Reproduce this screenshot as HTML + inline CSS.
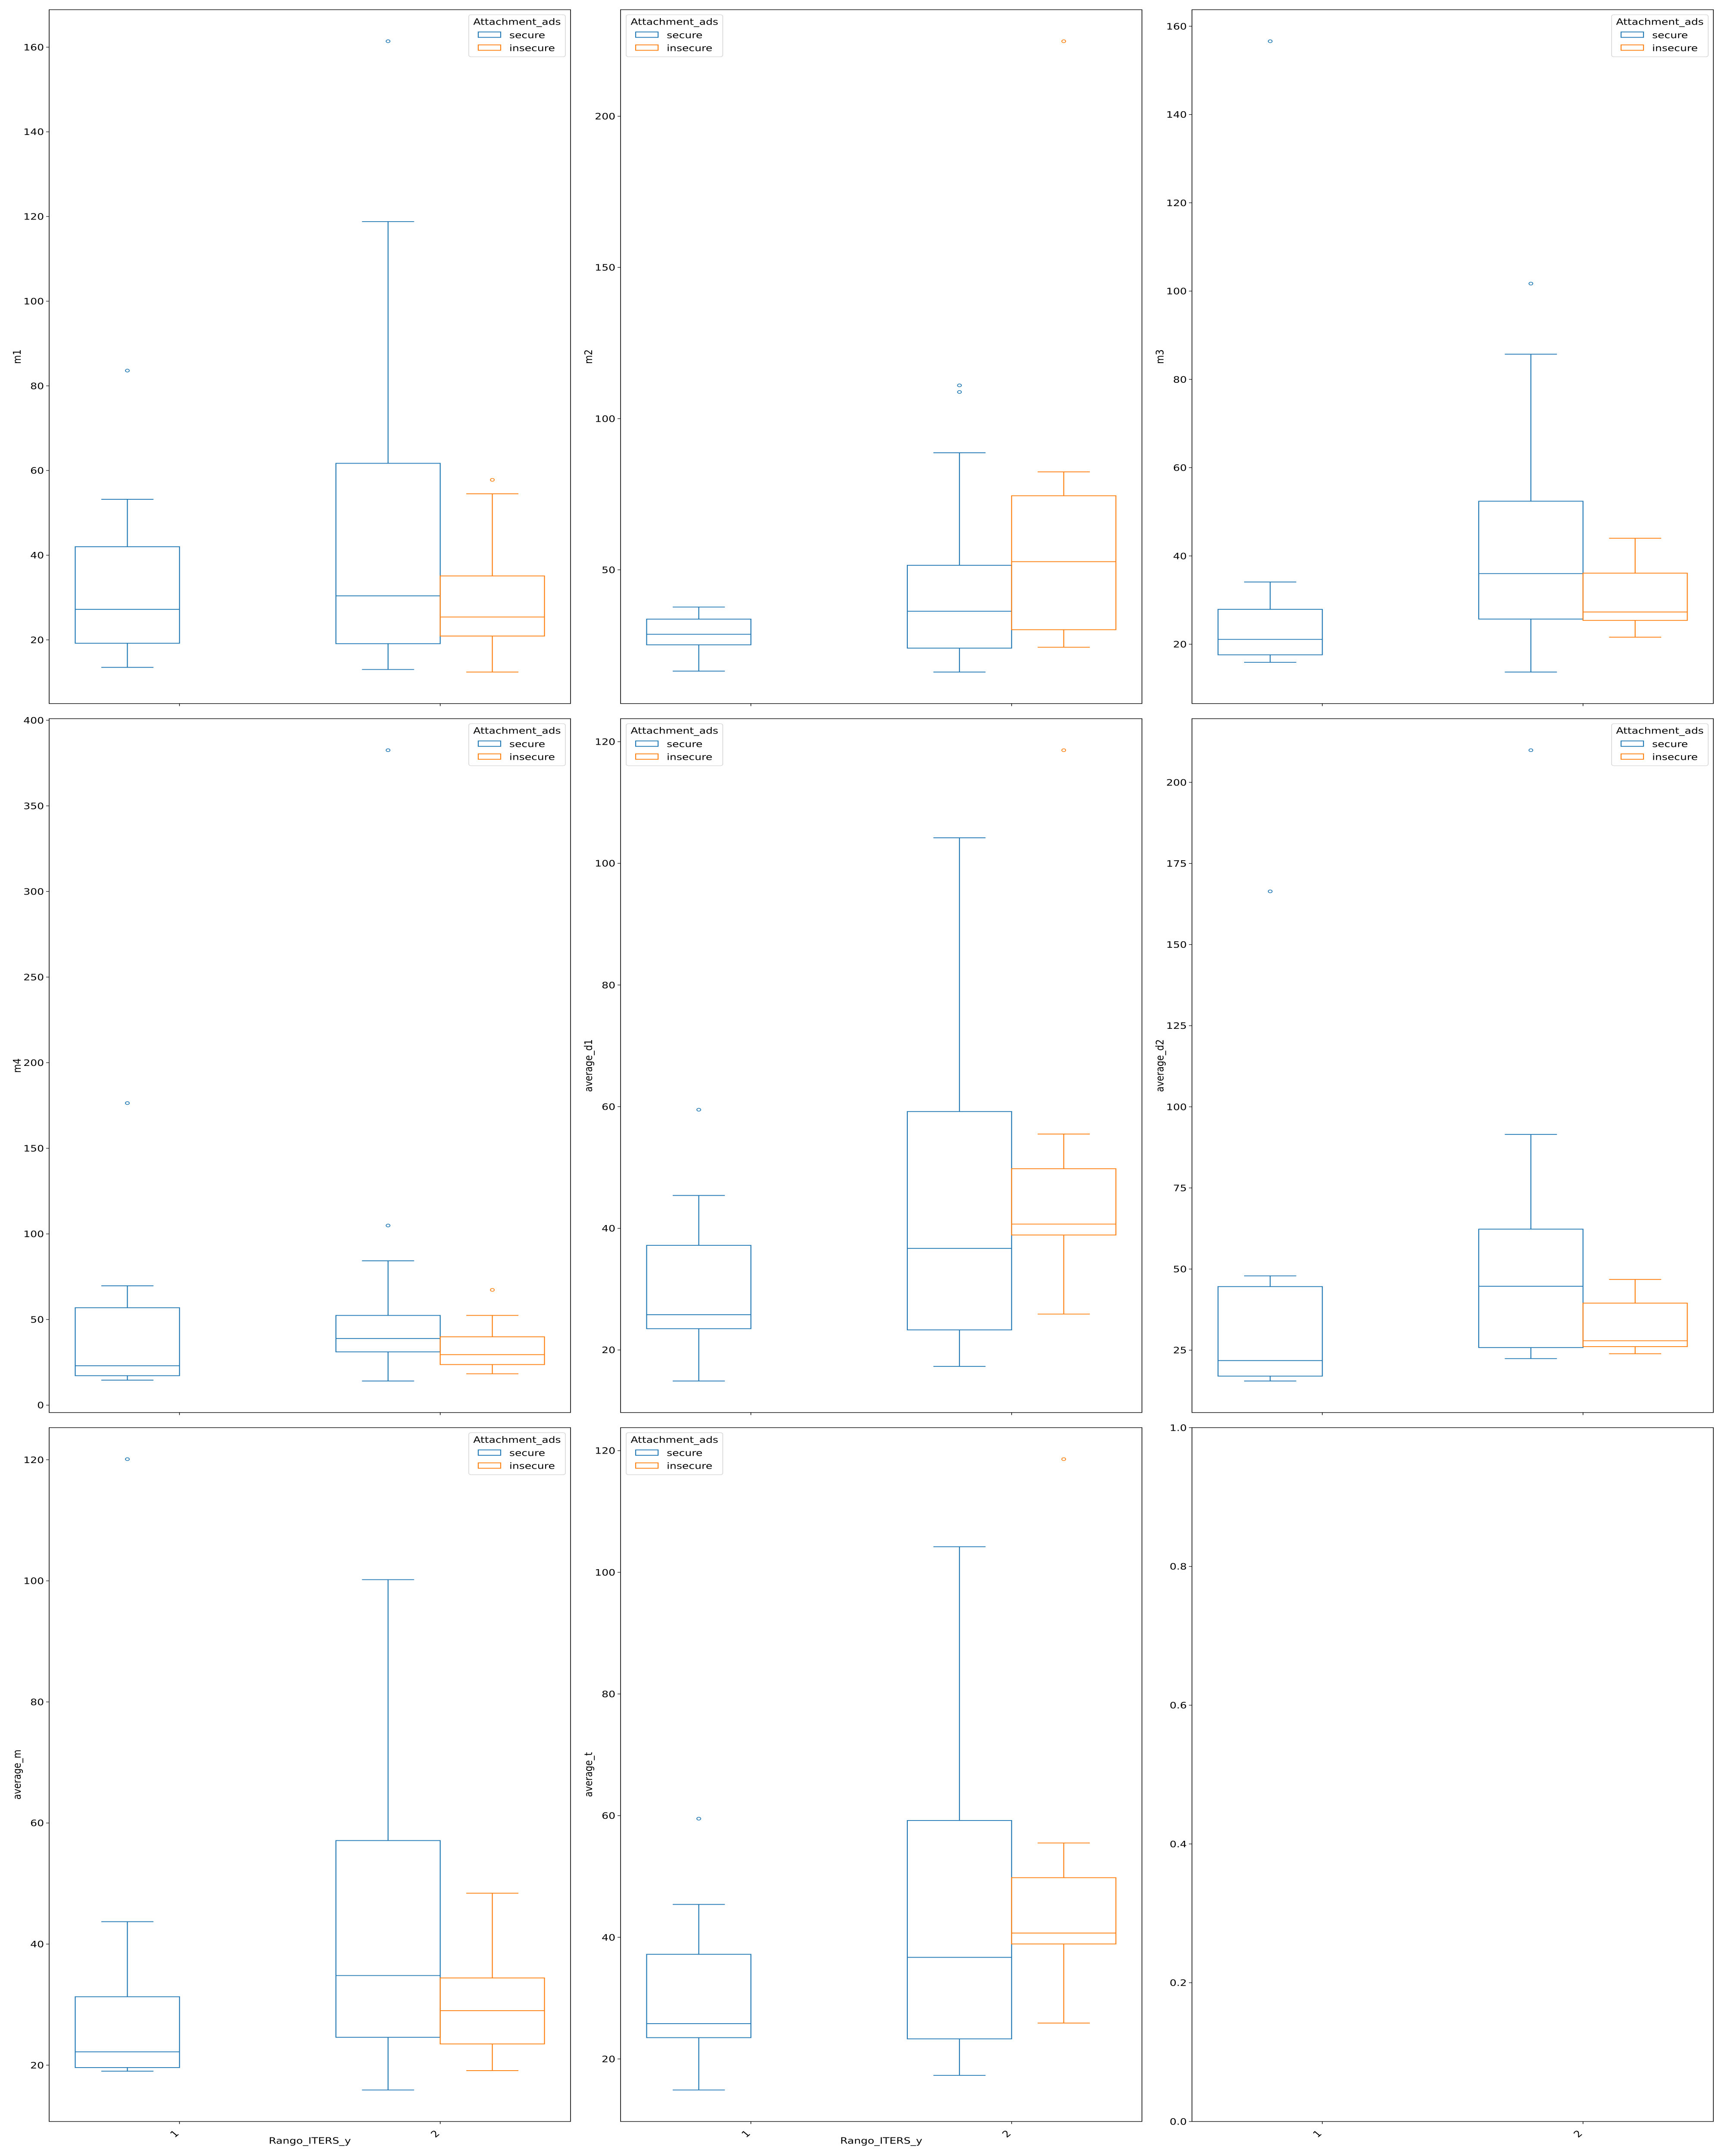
<!DOCTYPE html>
<html>
<head>
<meta charset="utf-8">
<style>
  html, body { margin: 0; padding: 0; background: #ffffff; width: 100%; height: 100%; overflow: hidden; }
  svg { display: block; position: absolute; left: 0; top: 0; width: 100vw; height: 100vh; font-family: "DejaVu Sans", "Liberation Sans", sans-serif; }
</style>
</head>
<body>
<svg id="chart" xmlns="http://www.w3.org/2000/svg" viewBox="0 0 4000 6000" preserveAspectRatio="none"></svg>
<script>
// ---- data: stats are [lowWhisker, q1, median, q3, highWhisker] ----
const categories = ['1', '2'];
const hues = ['secure', 'insecure'];

const m1Ticks = [20, 40, 60, 80, 100, 120, 140, 160];
const m1SecureG1 = [13.5, 19.2, 27.2, 42.0, 53.2];
const m1SecureG1Out = [83.6];
const m1SecureG2 = [13.0, 19.1, 30.4, 61.7, 118.8];
const m1SecureG2Out = [161.4];
const m1InsecureG2 = [12.4, 20.9, 25.4, 35.1, 54.5];
const m1InsecureG2Out = [57.8];

const m2Ticks = [50, 100, 150, 200];
const m2SecureG1 = [16.5, 25.2, 28.7, 33.7, 37.7];
const m2SecureG1Out = [];
const m2SecureG2 = [16.2, 24.1, 36.3, 51.5, 88.7];
const m2SecureG2Out = [111.0, 108.8];
const m2InsecureG2 = [24.4, 30.2, 52.7, 74.5, 82.4];
const m2InsecureG2Out = [224.8];

const m3Ticks = [20, 40, 60, 80, 100, 120, 140, 160];
const m3SecureG1 = [15.9, 17.6, 21.1, 27.9, 34.1];
const m3SecureG1Out = [156.6];
const m3SecureG2 = [13.7, 25.7, 36.0, 52.4, 85.7];
const m3SecureG2Out = [101.7];
const m3InsecureG2 = [21.6, 25.4, 27.3, 36.1, 44.0];
const m3InsecureG2Out = [];

const m4Ticks = [0, 50, 100, 150, 200, 250, 300, 350, 400];
const m4SecureG1 = [14.6, 17.2, 23.0, 56.9, 69.7];
const m4SecureG1Out = [176.4];
const m4SecureG2 = [14.1, 31.1, 38.9, 52.4, 84.3];
const m4SecureG2Out = [382.5, 104.9];
const m4InsecureG2 = [18.3, 23.7, 29.5, 39.9, 52.4];
const m4InsecureG2Out = [67.3];

const d1Ticks = [20, 40, 60, 80, 100, 120];
const d1SecureG1 = [14.9, 23.5, 25.8, 37.2, 45.4];
const d1SecureG1Out = [59.5];
const d1SecureG2 = [17.3, 23.3, 36.7, 59.2, 104.2];
const d1SecureG2Out = [];
const d1InsecureG2 = [25.9, 38.9, 40.7, 49.8, 55.5];
const d1InsecureG2Out = [118.6];

const d2Ticks = [25, 50, 75, 100, 125, 150, 175, 200];
const d2SecureG1 = [15.5, 17.0, 21.8, 44.6, 47.9];
const d2SecureG1Out = [166.4];
const d2SecureG2 = [22.4, 25.8, 44.7, 62.3, 91.5];
const d2SecureG2Out = [209.9];
const d2InsecureG2 = [23.9, 26.1, 27.9, 39.5, 46.8];
const d2InsecureG2Out = [];

const amTicks = [20, 40, 60, 80, 100, 120];
const amSecureG1 = [19.0, 19.6, 22.2, 31.3, 43.7];
const amSecureG1Out = [120.1];
const amSecureG2 = [15.9, 24.6, 34.8, 57.1, 100.2];
const amSecureG2Out = [];
const amInsecureG2 = [19.1, 23.5, 29.0, 34.4, 48.4];
const amInsecureG2Out = [];

const atTicks = [20, 40, 60, 80, 100, 120];
const atSecureG1 = [14.9, 23.5, 25.8, 37.2, 45.4];
const atSecureG1Out = [59.5];
const atSecureG2 = [17.3, 23.3, 36.7, 59.2, 104.2];
const atSecureG2Out = [];
const atInsecureG2 = [25.9, 38.9, 40.7, 49.8, 55.5];
const atInsecureG2Out = [118.6];

const emptyTicks = [0.0, 0.2, 0.4, 0.6, 0.8, 1.0];
const emptyTickLabels = ['0.0', '0.2', '0.4', '0.6', '0.8', '1.0'];

// ---- layout ----
const COLORS = ['#1f77b4', '#ff7f0e'];
const colLeft = [114, 1439, 2764];
const rowTop = [27, 2000, 3973];
const AW = 1209, AH = 1931;
const FS = 25;
const NS = 'http://www.w3.org/2000/svg';
const svg = document.getElementById('chart');

function mk(tag, parent, attrs) {
  const e = document.createElementNS(NS, tag);
  for (const k in attrs) e.setAttribute(k, attrs[k]);
  parent.appendChild(e);
  return e;
}

const panels = [
  { key: 'm1', label: 'm1', col: 0, row: 0, legend: 'right', ticks: m1Ticks,
    boxes: [[0, 0, m1SecureG1, m1SecureG1Out], [1, 0, m1SecureG2, m1SecureG2Out], [1, 1, m1InsecureG2, m1InsecureG2Out]] },
  { key: 'm2', label: 'm2', col: 1, row: 0, legend: 'left', ticks: m2Ticks,
    boxes: [[0, 0, m2SecureG1, m2SecureG1Out], [1, 0, m2SecureG2, m2SecureG2Out], [1, 1, m2InsecureG2, m2InsecureG2Out]] },
  { key: 'm3', label: 'm3', col: 2, row: 0, legend: 'right', ticks: m3Ticks,
    boxes: [[0, 0, m3SecureG1, m3SecureG1Out], [1, 0, m3SecureG2, m3SecureG2Out], [1, 1, m3InsecureG2, m3InsecureG2Out]] },
  { key: 'm4', label: 'm4', col: 0, row: 1, legend: 'right', ticks: m4Ticks,
    boxes: [[0, 0, m4SecureG1, m4SecureG1Out], [1, 0, m4SecureG2, m4SecureG2Out], [1, 1, m4InsecureG2, m4InsecureG2Out]] },
  { key: 'average-d1', label: 'average_d1', col: 1, row: 1, legend: 'left', ticks: d1Ticks,
    boxes: [[0, 0, d1SecureG1, d1SecureG1Out], [1, 0, d1SecureG2, d1SecureG2Out], [1, 1, d1InsecureG2, d1InsecureG2Out]] },
  { key: 'average-d2', label: 'average_d2', col: 2, row: 1, legend: 'right', ticks: d2Ticks,
    boxes: [[0, 0, d2SecureG1, d2SecureG1Out], [1, 0, d2SecureG2, d2SecureG2Out], [1, 1, d2InsecureG2, d2InsecureG2Out]] },
  { key: 'average-m', label: 'average_m', col: 0, row: 2, legend: 'right', ticks: amTicks, xlabel: true,
    boxes: [[0, 0, amSecureG1, amSecureG1Out], [1, 0, amSecureG2, amSecureG2Out], [1, 1, amInsecureG2, amInsecureG2Out]] },
  { key: 'average-t', label: 'average_t', col: 1, row: 2, legend: 'left', ticks: atTicks, xlabel: true,
    boxes: [[0, 0, atSecureG1, atSecureG1Out], [1, 0, atSecureG2, atSecureG2Out], [1, 1, atInsecureG2, atInsecureG2Out]] },
  { key: 'empty', label: '', col: 2, row: 2, legend: null, ticks: emptyTicks, tickLabels: emptyTickLabels, domain: [0, 1], boxes: [] }
];

panels.forEach(p => {
  const L = colLeft[p.col], T = rowTop[p.row], B = T + AH, R = L + AW;
  const g = mk('g', svg, {});
  
  

  let lo, hi;
  if (p.domain) { lo = p.domain[0]; hi = p.domain[1]; }
  else {
    let vals = [];
    p.boxes.forEach(b => { vals = vals.concat(b[2], b[3]); });
    const mn = Math.min(...vals), mx = Math.max(...vals), m = (mx - mn) * 0.05;
    lo = mn - m; hi = mx + m;
  }
  const y = v => B - (v - lo) / (hi - lo) * AH;
  const step = AW / categories.length;
  const catX = i => L + step * (i + 0.5);
  const bw = step * 0.4;

  p.boxes.forEach(b => {
    const [ci, hi2, s, out] = b;
    const cx = catX(ci) + (hi2 === 0 ? -bw / 2 : bw / 2);
    const col = COLORS[hi2];
    const bg = mk('g', g, { stroke: col, 'stroke-width': 2.2, fill: 'none' });
    
    
    const rect = mk('rect', bg, { x: cx - bw / 2, y: y(s[3]), width: bw, height: y(s[1]) - y(s[3]) });
    
    
    const med = mk('line', bg, { x1: cx - bw / 2, x2: cx + bw / 2, y1: y(s[2]), y2: y(s[2]) });
    
    
    const w1 = mk('line', bg, { x1: cx, x2: cx, y1: y(s[3]), y2: y(s[4]) });
    
    
    const w2 = mk('line', bg, { x1: cx, x2: cx, y1: y(s[1]), y2: y(s[0]) });
    
    
    const c1 = mk('line', bg, { x1: cx - bw / 4, x2: cx + bw / 4, y1: y(s[4]), y2: y(s[4]) });
    
    
    const c2 = mk('line', bg, { x1: cx - bw / 4, x2: cx + bw / 4, y1: y(s[0]), y2: y(s[0]) });
    
    
    out.forEach(v => {
      const o = mk('ellipse', bg, { cx: cx, cy: y(v), rx: 4.5, ry: 4, 'stroke-width': 1.8 });
      
      
    });
  });

  const fr = mk('rect', g, { x: L, y: T, width: AW, height: AH, fill: 'none', stroke: '#000', 'stroke-width': 1.6 });
  
  

  const yax = mk('g', g, {});
  
  
  p.ticks.forEach((t, i) => {
    const ty = y(t);
    mk('line', yax, { x1: L - 7, x2: L, y1: ty, y2: ty, stroke: '#000', 'stroke-width': 1.4 });
    const tx = mk('text', yax, { x: L - 12, y: ty + 9, 'text-anchor': 'end', 'font-size': FS, fill: '#000' });
    
    
    tx.textContent = p.tickLabels ? p.tickLabels[i] : String(t);
  });
  if (p.label) {
    const yl = mk('text', g, { x: L - 66, y: T + AH / 2, 'text-anchor': 'middle', 'font-size': FS, fill: '#000',
      transform: 'rotate(-90 ' + (L - 66) + ' ' + (T + AH / 2) + ')' });
    
    
    yl.textContent = p.label;
  }

  const xax = mk('g', g, {});
  
  
  categories.forEach((c, i) => {
    const tx = catX(i);
    mk('line', xax, { x1: tx, x2: tx, y1: B, y2: B + 7, stroke: '#000', 'stroke-width': 1.4 });
    if (p.row === 2) {
      const lx = tx - 12, ly = B + 34;
      const t = mk('text', xax, { x: lx, y: ly + 9, 'text-anchor': 'middle', 'font-size': FS, fill: '#000',
        transform: 'rotate(-45 ' + lx + ' ' + ly + ')' });
      
      
      t.textContent = c;
    }
  });
  if (p.xlabel) {
    const xl = mk('text', g, { x: L + AW / 2, y: B + 62, 'text-anchor': 'middle', 'font-size': FS, fill: '#000' });
    
    
    xl.textContent = 'Rango_ITERS_y';
  }

  if (p.legend) {
    const lw = 224, lh = 117;
    const lx = p.legend === 'right' ? R - 12 - lw : L + 13;
    const ly = T + 14;
    const lg = mk('g', g, {});
    
    
    mk('rect', lg, { x: lx, y: ly, width: lw, height: lh, rx: 5, fill: '#fff', 'fill-opacity': 0.8, stroke: '#d0d0d0', 'stroke-width': 1.4 });
    const lt = mk('text', lg, { x: lx + lw / 2, y: ly + 28, 'text-anchor': 'middle', 'font-size': FS, fill: '#000' });
    
    
    lt.textContent = 'Attachment_ads';
    hues.forEach((h, i) => {
      const e = mk('g', lg, {});
      
      
      mk('rect', e, { x: lx + 22, y: ly + 48 + i * 36, width: 52, height: 15, fill: 'none', stroke: COLORS[i], 'stroke-width': 2.2 });
      const tt = mk('text', e, { x: lx + 94, y: ly + 65 + i * 36, 'font-size': FS, fill: '#000' });
      tt.textContent = h;
    });
  }
});
</script>
</body>
</html>
